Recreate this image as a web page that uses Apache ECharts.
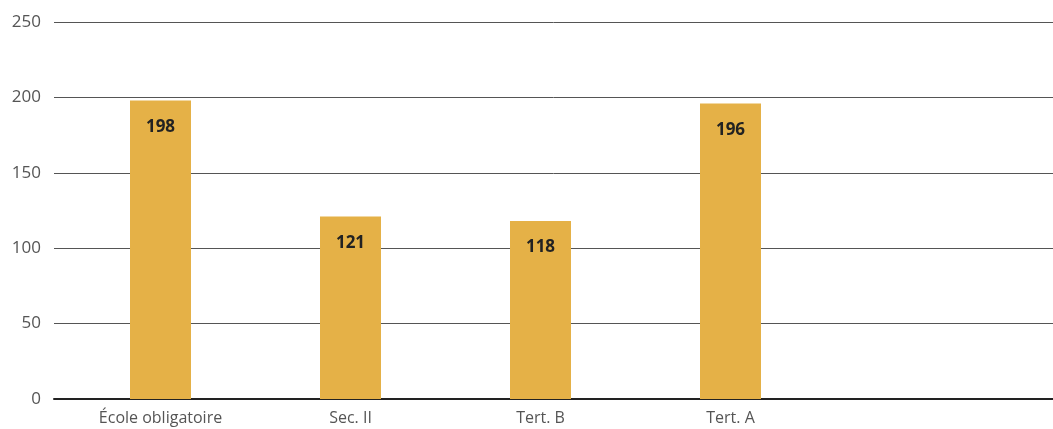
<!DOCTYPE html>
<html>
<head>
<meta charset="utf-8">
<script src="https://cdn.jsdelivr.net/npm/echarts@6/dist/echarts.min.js"></script>
<style>
  html, body { margin: 0; padding: 0; background: #fff; }
  #chart { width: 1053px; height: 429px; }
</style>
</head>
<body>
<div id="chart"></div>
<script>
// data
var categories = ['École obligatoire', 'Sec. II', 'Tert. B', 'Tert. A', ''];
var values = [198, 121, 118, 196, null];
var yTicks = [0, 50, 100, 150, 200, 250];

var chartDom = document.getElementById('chart');
var myChart = echarts.init(chartDom);
var textFont = '"Open Sans", Lato, sans-serif';

var option = {
    animation: false,
    grid: [
        // background grid with the value axis and split lines
        { left: 54, right: 0, top: 22, height: 377 },
        // bars
        { left: 65.5, width: 950, top: 22, height: 377 }
    ],
    xAxis: [
        {
            type: 'category',
            gridIndex: 0,
            data: [''],
            axisLine: { show: true, lineStyle: { color: '#222', width: 2 } },
            axisTick: { show: false },
            axisLabel: { show: false }
        },
        {
            type: 'category',
            gridIndex: 1,
            data: categories,
            axisLine: { show: false },
            axisTick: { show: false },
            axisLabel: {
                color: '#555',
                fontSize: 16,
                fontFamily: textFont,
                margin: 11
            }
        }
    ],
    yAxis: [
        {
            type: 'value',
            gridIndex: 0,
            min: yTicks[0],
            max: yTicks[yTicks.length - 1],
            interval: 50,
            axisLine: { show: false },
            axisTick: { show: false },
            axisLabel: {
                color: '#555',
                fontSize: 17,
                fontFamily: textFont,
                margin: 13
            },
            splitLine: { lineStyle: { color: '#555', width: 1 } }
        },
        {
            type: 'value',
            gridIndex: 1,
            min: yTicks[0],
            max: yTicks[yTicks.length - 1],
            interval: 50,
            axisLine: { show: false },
            axisTick: { show: false },
            axisLabel: { show: false },
            splitLine: { show: false }
        }
    ],
    series: [
        {
            type: 'bar',
            xAxisIndex: 1,
            yAxisIndex: 1,
            data: values,
            barWidth: 61,
            itemStyle: { color: '#E5B147' },
            label: {
                show: true,
                position: 'insideTop',
                distance: 18,
                color: '#222',
                fontSize: 17,
                fontWeight: 'bold',
                fontFamily: textFont
            }
        }
    ]
};

option && myChart.setOption(option);
</script>
</body>
</html>
